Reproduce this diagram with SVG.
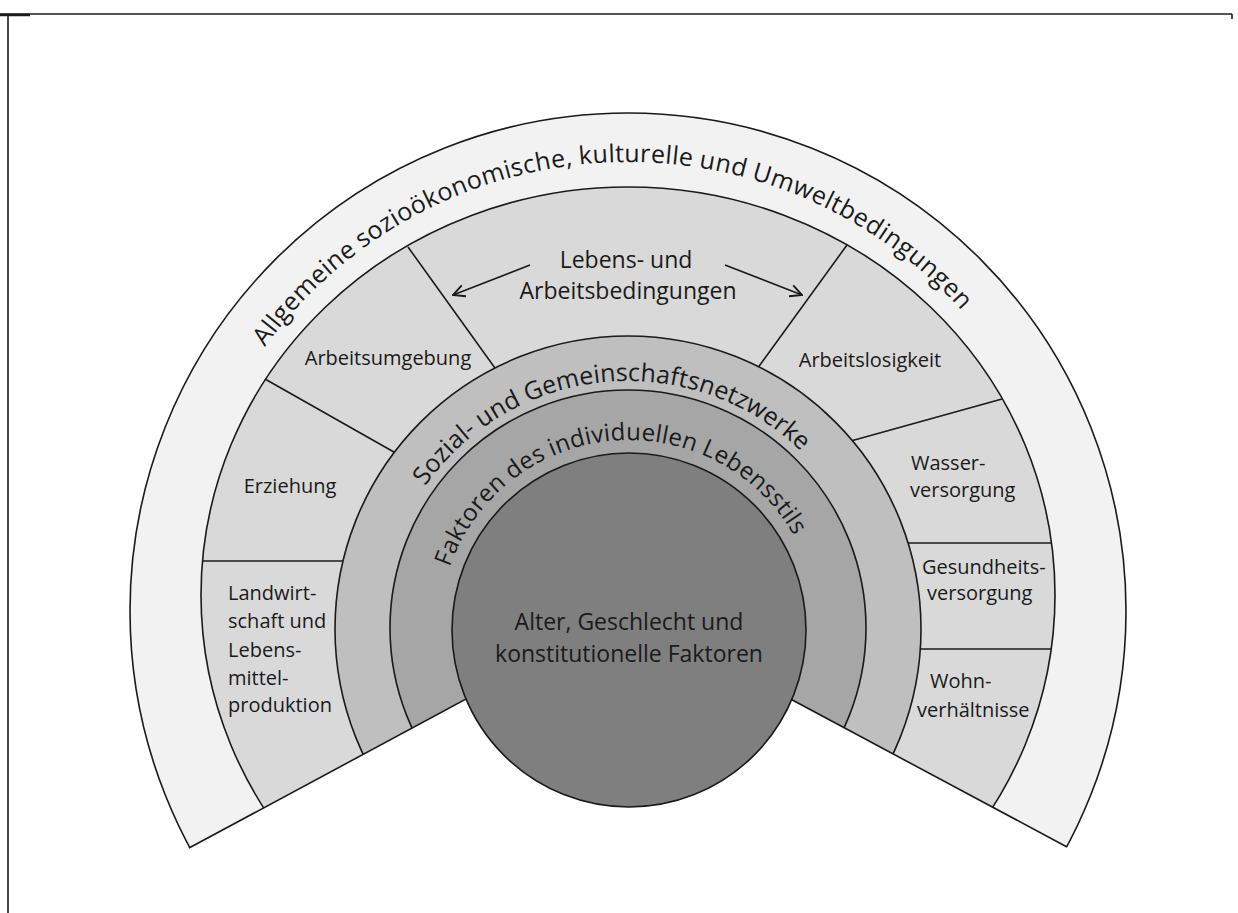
<svg xmlns="http://www.w3.org/2000/svg" width="1238" height="913" viewBox="0 0 1238 913">
<style>
 .band{stroke:#1a1a1a;stroke-width:1.6}
 .ln{stroke:#1a1a1a;stroke-width:1.6;fill:none}
 text{font-family:"Open Sans","Liberation Sans",sans-serif;fill:#1a1a1a}
 .lbl{font-size:20px}
 .big{font-size:23px}
 .arc{font-size:25px}
 .arc2{font-size:24px}
</style>
<defs>
 <path id="pOuter" d="M 179 611 A 449 449 0 0 1 1077 611"/>
 <path id="pSozial" d="M 380 629 A 248 248 0 0 1 876 629"/>
 <path id="pFakt" d="M 439 630 A 190 190 0 0 1 819 630"/>
 <marker id="ah" viewBox="0 0 12 12" refX="11" refY="6" markerWidth="14" markerHeight="14" markerUnits="userSpaceOnUse" orient="auto">
  <path d="M1,1 L11,6 L1,11" fill="none" stroke="#1a1a1a" stroke-width="1.6"/>
 </marker>
</defs>
<rect width="1238" height="913" fill="#fff"/>
<g id="frame" class="ln">
 <line x1="0" y1="14" x2="1232" y2="14"/>
 <line x1="8" y1="14" x2="8" y2="913"/>
 <line x1="1232" y1="14" x2="1232" y2="19"/>
 <line x1="0" y1="15" x2="30" y2="15" stroke-width="2.5"/>
</g>
<g id="outer-ring">
 <circle cx="628" cy="611" r="498" fill="#f2f2f2" class="band"/>
</g>
<g id="living-working-band">
 <ellipse cx="628" cy="595" rx="427" ry="408" fill="#d9d9d9" class="band"/>
 <g class="ln">
  <line x1="408" y1="247" x2="505" y2="382"/>
  <line x1="847" y1="245" x2="749" y2="380"/>
  <line x1="265" y1="379" x2="408" y2="460"/>
  <line x1="1002" y1="399" x2="840" y2="444"/>
  <line x1="202" y1="561" x2="350" y2="561"/>
  <line x1="1052" y1="543" x2="900" y2="543"/>
  <line x1="1051" y1="649" x2="910" y2="649"/>
 </g>
</g>
<g id="social-band">
 <circle cx="628" cy="629" r="293" fill="#bfbfbf" class="band"/>
</g>
<g id="lifestyle-band">
 <circle cx="628" cy="628" r="238" fill="#a6a6a6" class="band"/>
</g>
<polygon points="0,950 628,612 1238,939 1238,1000 0,1000" fill="#fff"/>
<g class="ln">
 <line x1="189" y1="848" x2="628" y2="612"/>
 <line x1="628" y1="612" x2="1067" y2="847"/>
</g>
<g id="core">
 <circle cx="629" cy="630" r="177" fill="#7f7f7f" class="band"/>
 <text class="big" text-anchor="middle" x="629" y="630">Alter, Geschlecht und</text>
 <text class="big" text-anchor="middle" x="629" y="662">konstitutionelle Faktoren</text>
</g>
<g id="outer-label" class="arc">
 <text class="arc"><textPath href="#pOuter" startOffset="282" textLength="132.6" lengthAdjust="spacing">Allgemeine</textPath></text>
 <text class="arc"><textPath href="#pOuter" startOffset="421.3" textLength="228.6" lengthAdjust="spacing">sozioökonomische,</textPath></text>
 <text class="arc"><textPath href="#pOuter" startOffset="656.6" textLength="112.7" lengthAdjust="spacing">kulturelle</textPath></text>
 <text class="arc"><textPath href="#pOuter" startOffset="776" textLength="47.1" lengthAdjust="spacing">und</textPath></text>
 <text class="arc"><textPath href="#pOuter" startOffset="829.8" textLength="251.3" lengthAdjust="spacing">Umweltbedingungen</textPath></text>
</g>
<g id="social-label">
 <text class="arc"><textPath href="#pSozial" startOffset="152" textLength="75.2" lengthAdjust="spacing">Sozial-</textPath></text>
 <text class="arc"><textPath href="#pSozial" startOffset="233.7" textLength="46" lengthAdjust="spacing">und</textPath></text>
 <text class="arc"><textPath href="#pSozial" startOffset="286.2" textLength="294.7" lengthAdjust="spacing">Gemeinschaftsnetzwerke</textPath></text>
</g>
<g id="lifestyle-label">
 <text class="arc2"><textPath href="#pFakt" startOffset="64" textLength="101.9" lengthAdjust="spacing">Faktoren</textPath></text>
 <text class="arc2"><textPath href="#pFakt" startOffset="172.3" textLength="40.6" lengthAdjust="spacing">des</textPath></text>
 <text class="arc2"><textPath href="#pFakt" startOffset="219.2" textLength="145.9" lengthAdjust="spacing">individuellen</textPath></text>
 <text class="arc2"><textPath href="#pFakt" startOffset="371.5" textLength="126.6" lengthAdjust="spacing">Lebensstils</textPath></text>
</g>
<g id="living-working">
 <text class="big" text-anchor="middle" x="626" y="268">Lebens- und</text>
 <text class="big" text-anchor="middle" x="628" y="299">Arbeitsbedingungen</text>
</g>
<g id="arbeitsumgebung"><text class="lbl" text-anchor="middle" x="388" y="365">Arbeitsumgebung</text></g>
<g id="arbeitslosigkeit"><text class="lbl" text-anchor="middle" x="870" y="367">Arbeitslosigkeit</text></g>
<g id="erziehung"><text class="lbl" text-anchor="middle" x="290" y="493">Erziehung</text></g>
<g id="landwirtschaft">
 <text class="lbl" x="228" y="600">Landwirt-</text>
 <text class="lbl" x="228" y="628">schaft und</text>
 <text class="lbl" x="228" y="657">Lebens-</text>
 <text class="lbl" x="228" y="685">mittel-</text>
 <text class="lbl" x="228" y="712">produktion</text>
</g>
<g id="wasser">
 <text class="lbl" x="911" y="470">Wasser-</text>
 <text class="lbl" x="910" y="497">versorgung</text>
</g>
<g id="gesundheit">
 <text class="lbl" x="922" y="574">Gesundheits-</text>
 <text class="lbl" x="927" y="600">versorgung</text>
</g>
<g id="wohn">
 <text class="lbl" x="930" y="688">Wohn-</text>
 <text class="lbl" x="917" y="717">verhältnisse</text>
</g>
<g id="connectors" class="ln">
 <line x1="530" y1="265" x2="453" y2="295" marker-end="url(#ah)"/>
 <line x1="725" y1="265" x2="802" y2="295" marker-end="url(#ah)"/>
</g>
</svg>
